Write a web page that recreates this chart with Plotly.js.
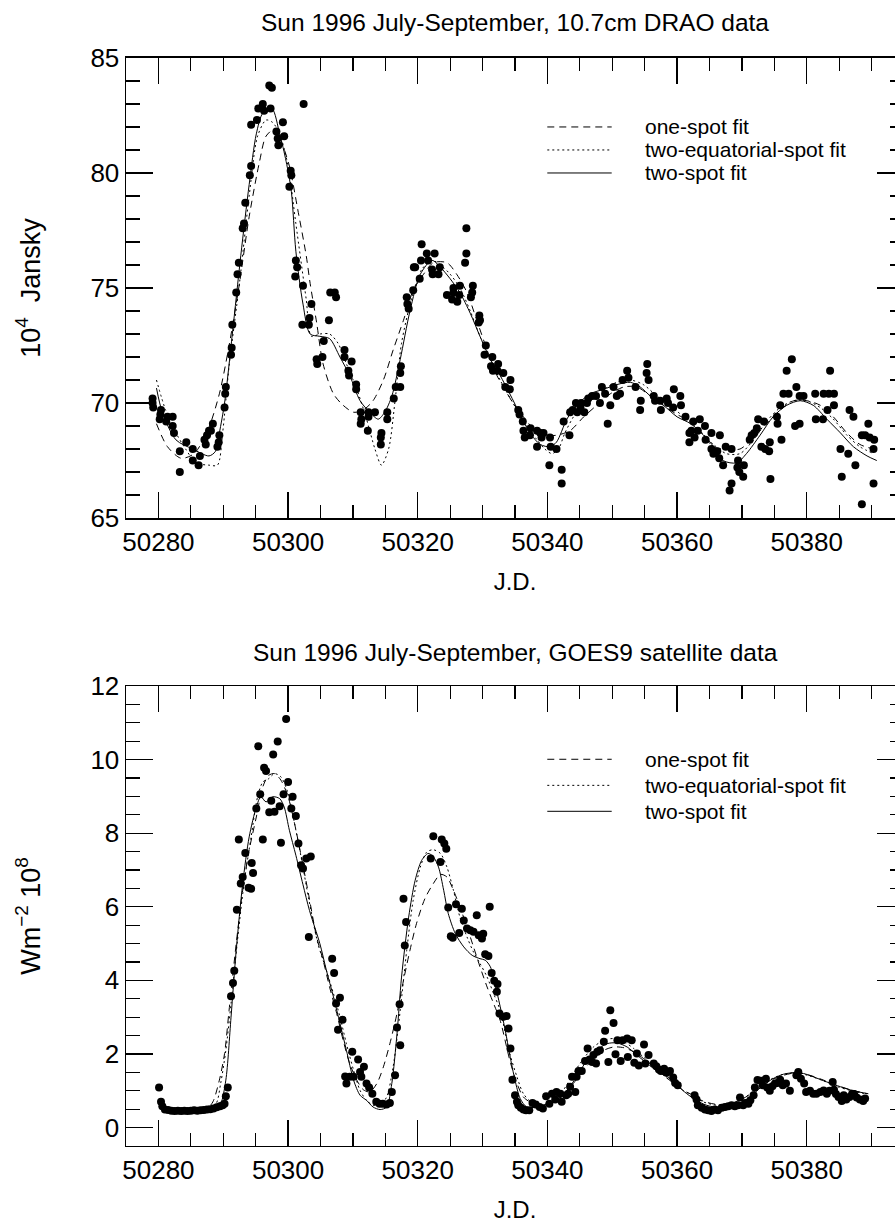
<!DOCTYPE html>
<html>
<head>
<meta charset="utf-8">
<script src="https://cdn.plot.ly/plotly-3.0.1.min.js"></script>
<style>
html,body{margin:0;padding:0;background:#fff;overflow:hidden;}
#chart{width:924px;height:1225px;}
</style>
</head>
<body>
<div id="chart"></div>
<script>
// ---------- DRAO 10.7 cm data (top panel) ----------
const draoJD = [50279.1,50279.1,50279.2,50280.3,50280.4,50280.2,50281.4,50281.2,50282.2,50282.2,50282.4,50283.3,50283.3,50284.3,50285.3,50285.3,50286.2,50286.4,50287.1,50287.3,50287.5,50287.8,50288.4,50288.1,50289.1,50289.3,50289.4,50290.2,50290.3,50290.4,50291.2,50291.3,50291.4,50292.0,50292.2,50292.4,50293.0,50293.2,50293.4,50294.1,50294.3,50294.3,50295.2,50295.4,50296.1,50296.3,50297.1,50297.5,50297.3,50298.2,50298.4,50298.5,50299.2,50299.4,50300.4,50300.5,50300.2,50301.2,50301.4,50301.1,50302.3,50302.4,50302.2,50303.2,50303.3,50303.6,50304.4,50304.5,50305.3,50305.5,50306.3,50306.5,50307.2,50307.4,50308.7,50308.7,50309.8,50309.3,50309.4,50310.5,50310.5,50311.2,50311.3,50311.2,50312.4,50312.4,50312.3,50313.4,50314.4,50314.3,50314.3,50315.3,50315.3,50316.3,50316.6,50317.3,50317.3,50317.4,50318.3,50318.4,50318.6,50319.3,50319.4,50319.6,50320.3,50320.5,50320.6,50321.4,50321.6,50322.6,50322.2,50322.3,50323.2,50323.4,50324.5,50325.3,50326.1,50325.5,50325.5,50326.4,50326.5,50327.5,50327.5,50327.3,50328.5,50328.4,50328.2,50329.5,50329.4,50329.6,50330.5,50330.3,50331.5,50331.3,50331.6,50332.4,50332.3,50333.2,50333.5,50334.3,50334.2,50335.5,50335.7,50336.2,50336.3,50336.5,50337.4,50337.3,50338.4,50338.9,50339.4,50338.4,50339.1,50340.4,50340.5,50341.4,50340.3,50342.2,50342.2,50342.5,50343.4,50343.5,50343.9,50344.6,50344.4,50345.1,50345.2,50345.7,50346.1,50346.3,50346.9,50347.5,50348.4,50348.1,50348.9,50349.3,50349.7,50350.2,50350.7,50351.2,50351.6,50352.3,50352.5,50353.6,50354.3,50354.4,50355.4,50355.3,50355.6,50356.4,50356.6,50357.4,50357.5,50358.4,50358.6,50359.5,50359.4,50360.5,50360.6,50361.3,50361.9,50361.9,50362.5,50362.2,50362.7,50363.2,50363.5,50364.3,50364.4,50365.3,50365.3,50365.6,50366.2,50366.5,50366.6,50367.1,50367.5,50368.4,50368.4,50368.1,50369.4,50369.3,50369.6,50370.2,50370.3,50371.2,50371.5,50371.9,50372.3,50372.5,50373.4,50373.0,50373.6,50374.3,50374.2,50374.4,50375.4,50375.5,50376.1,50375.9,50376.4,50376.9,50377.2,50377.7,50378.4,50378.2,50378.9,50378.9,50379.5,50381.3,50381.4,50382.5,50382.6,50383.4,50383.2,50383.6,50384.2,50384.2,50385.2,50385.4,50386.4,50387.2,50386.6,50387.5,50388.5,50388.5,50389.0,50389.5,50389.7,50390.4,50390.3,50390.3];
const draoFlux = [70.2,70.0,69.8,69.5,69.7,69.3,69.4,69.2,69.4,69.0,68.7,67.9,67.0,68.3,68.0,67.5,67.3,67.7,68.4,68.2,68.6,68.8,69.1,68.8,68.1,68.3,68.6,69.8,70.4,70.7,72.1,72.4,73.4,74.8,75.6,76.1,77.6,77.8,78.7,79.9,80.3,82.1,82.3,82.8,83.0,82.7,83.8,83.7,82.8,81.8,81.5,81.2,82.2,81.6,80.1,79.9,79.4,76.2,75.9,75.5,75.1,83.0,73.4,73.4,73.7,74.3,71.9,71.7,72.0,72.7,73.6,74.8,74.8,74.6,72.3,72.0,71.8,71.4,71.2,70.8,70.6,69.6,69.3,69.1,69.6,69.4,68.8,69.6,68.7,68.5,68.2,69.6,69.3,70.2,70.7,70.7,71.3,71.6,74.6,74.3,74.1,74.9,75.9,75.9,75.4,76.2,76.9,76.5,76.2,76.5,75.8,75.6,75.6,75.9,74.7,74.5,74.4,75.0,74.8,74.7,75.1,77.6,76.5,76.1,75.1,74.8,74.6,73.8,73.5,73.6,72.5,72.1,72.0,71.6,71.4,71.7,71.4,71.3,70.7,71.0,70.6,69.7,69.5,69.2,68.8,68.5,68.9,68.6,68.8,68.7,68.7,68.1,68.5,68.5,68.1,68.0,67.3,67.1,66.5,69.2,68.6,69.6,69.7,69.6,70.0,69.8,70.0,69.6,70.0,70.2,70.3,70.3,70.7,70.0,70.4,69.1,69.9,70.7,70.3,70.4,71.0,71.4,71.1,70.7,69.7,70.1,71.7,71.3,71.0,70.3,70.1,70.1,69.7,70.2,70.0,70.6,69.8,70.3,69.9,69.4,68.7,68.3,69.2,68.8,68.5,68.8,69.3,69.0,68.4,68.7,68.0,67.8,67.9,67.6,68.6,67.3,68.1,68.0,66.5,66.2,67.5,67.2,67.0,66.8,67.3,68.4,68.6,68.7,68.9,69.3,69.2,68.1,68.0,68.3,67.9,66.7,69.4,69.1,68.4,69.9,70.4,71.4,70.4,71.9,70.7,69.0,70.3,69.1,70.3,70.4,69.3,69.3,70.4,70.4,69.7,71.4,70.4,69.9,68.0,66.8,67.8,69.4,69.7,67.3,68.6,65.6,68.6,69.1,68.5,68.4,68.0,66.5];

// DRAO fits
const draoOneJD = [50279.7,50281.4,50283.5,50285.5,50287.6,50289.4,50290.9,50292.5,50294.0,50295.6,50296.6,50297.9,50298.9,50300.2,50301.5,50302.8,50303.4,50304.4,50305.4,50307.0,50308.5,50310.1,50311.6,50313.1,50314.7,50316.2,50317.8,50319.3,50320.9,50322.4,50324.5,50326.0,50327.6,50329.1,50330.7,50332.2,50333.2,50334.7,50336.3,50337.8,50339.6,50341.4,50343.5,50345.6,50347.6,50349.7,50351.8,50353.8,50355.9,50357.9,50360.0,50362.1,50363.5,50365.6,50367.6,50369.7,50371.8,50373.8,50375.9,50378.0,50380.0,50382.1,50384.1,50386.2,50388.2,50390.3];
const draoOneFlux = [69.1,68.1,67.6,67.8,68.8,70.4,72.5,75.2,78.1,80.5,81.6,81.9,81.4,80.3,78.4,76.4,75.2,73.5,71.7,70.4,69.9,69.6,69.7,70.1,71.0,72.3,73.6,74.9,75.6,76.1,76.1,75.6,74.8,73.6,72.3,71.2,70.7,70.0,69.4,68.9,68.6,68.6,68.8,69.4,69.9,70.4,70.7,70.7,70.3,69.9,69.5,69.2,68.8,68.1,68.0,68.0,68.5,69.1,69.7,70.1,70.1,69.9,69.4,68.7,68.2,68.0];
const draoEqJD = [50279.7,50281.1,50282.7,50284.2,50285.8,50287.8,50289.1,50289.9,50290.9,50292.5,50294.0,50295.3,50296.6,50297.6,50298.7,50300.0,50301.2,50302.8,50303.6,50304.9,50306.4,50307.7,50309.0,50310.6,50312.1,50313.4,50314.4,50315.5,50316.5,50317.5,50319.1,50320.6,50322.2,50323.5,50325.0,50326.5,50328.1,50329.6,50331.2,50332.7,50335.3,50336.8,50338.4,50339.6,50340.7,50341.7,50342.7,50344.5,50346.6,50348.7,50350.7,50352.8,50354.8,50356.9,50358.9,50361.0,50363.5,50365.6,50367.6,50369.7,50371.8,50373.8,50375.9,50378.0,50380.0,50382.1,50384.1,50386.2,50388.2,50390.3];
const draoEqFlux = [71.0,69.7,68.7,68.0,67.4,67.3,67.3,68.7,71.6,75.2,79.0,81.6,82.3,82.2,81.7,80.3,77.8,74.5,72.9,73.0,73.0,72.6,71.7,70.6,69.3,68.0,67.3,68.0,70.1,72.6,74.6,75.8,76.2,76.0,75.6,75.0,74.0,72.9,71.9,71.0,69.7,69.0,68.4,68.0,67.8,68.0,68.7,69.6,70.1,70.6,70.9,71.0,70.8,70.3,69.9,69.4,68.8,68.2,67.8,67.8,68.4,69.2,69.8,70.1,70.1,69.8,69.3,68.6,68.1,67.8];
const draoTwoJD = [50279.7,50280.6,50282.7,50285.3,50287.8,50288.8,50289.4,50290.2,50291.4,50292.7,50294.0,50295.1,50296.1,50297.5,50298.7,50299.7,50300.5,50301.2,50302.3,50303.4,50304.9,50306.4,50308.0,50309.5,50311.1,50312.6,50313.9,50314.9,50316.0,50317.3,50318.8,50320.4,50322.2,50323.5,50325.0,50326.5,50328.1,50329.6,50331.2,50332.7,50334.2,50335.8,50337.3,50338.9,50340.4,50341.4,50343.0,50344.5,50346.6,50348.7,50350.7,50352.8,50354.3,50355.9,50357.9,50360.0,50362.1,50365.1,50367.1,50369.2,50370.7,50372.8,50374.8,50376.9,50379.0,50381.0,50383.1,50385.2,50387.2,50389.3,50390.8];
const draoTwoFlux = [70.65,69.6,68.4,68.0,67.7,67.9,68.7,70.0,73.0,76.4,79.5,81.7,82.6,82.8,81.7,80.5,79.2,76.6,74.3,73.0,72.9,72.8,72.0,71.2,70.1,69.6,69.3,69.6,70.3,71.9,74.0,75.6,76.2,75.9,75.4,74.8,73.9,72.9,71.9,71.2,70.4,69.5,68.7,68.2,68.1,68.3,69.3,69.9,70.4,70.6,70.8,70.9,70.7,70.3,69.9,69.4,69.1,68.3,67.5,67.4,67.8,68.6,69.4,69.9,70.1,69.9,69.3,68.7,68.1,67.7,67.5];

// ---------- GOES9 data (bottom panel) ----------
const goesJD = [50280.1,50280.4,50280.6,50281.0,50281.5,50282.0,50282.5,50283.0,50283.5,50284.0,50284.5,50285.0,50285.5,50286.0,50286.5,50287.0,50287.5,50288.0,50288.5,50289.0,50289.5,50289.9,50290.2,50290.4,50290.7,50291.2,50291.5,50291.7,50292.1,50292.4,50292.7,50293.0,50293.4,50293.9,50294.3,50294.4,50294.6,50295.1,50295.4,50295.7,50296.1,50296.3,50296.6,50297.1,50297.4,50297.9,50298.7,50297.7,50298.4,50298.9,50299.3,50299.7,50300.0,50300.5,50300.7,50301.2,50301.6,50302.0,50302.3,50302.8,50303.5,50303.2,50306.8,50307.1,50307.4,50308.0,50307.7,50308.4,50308.8,50309.0,50309.5,50309.9,50310.1,50310.8,50311.1,50311.3,50311.7,50312.1,50312.5,50313.0,50313.6,50314.1,50314.6,50315.2,50315.7,50316.0,50316.5,50316.8,50317.3,50317.2,50318.0,50318.2,50317.8,50322.0,50322.4,50323.5,50323.7,50324.1,50324.4,50324.7,50325.1,50325.4,50325.9,50326.4,50326.8,50327.1,50327.6,50328.1,50328.6,50329.1,50329.4,50329.9,50330.1,50331.1,50330.4,50330.9,50331.4,50331.8,50332.2,50332.3,50332.6,50333.2,50333.7,50334.0,50334.3,50334.6,50335.0,50335.3,50335.5,50335.9,50336.3,50336.7,50337.2,50337.7,50338.2,50338.8,50339.3,50339.8,50340.3,50340.7,50341.2,50341.4,50342.0,50342.2,50342.9,50343.2,50343.5,50343.8,50344.3,50344.5,50344.8,50345.3,50345.8,50346.2,50346.5,50346.9,50347.1,50347.5,50347.7,50348.1,50348.7,50348.9,50349.4,50349.7,50350.2,50350.5,50350.8,50351.3,50351.6,50352.3,50352.4,50353.0,50353.4,50353.8,50354.1,50354.9,50355.1,50355.6,50356.4,50356.8,50357.2,50357.5,50358.0,50358.4,50358.9,50359.4,50359.7,50360.1,50362.7,50363.0,50363.2,50363.8,50364.3,50364.8,50365.3,50365.8,50366.3,50366.9,50367.4,50367.9,50368.4,50368.9,50369.4,50369.7,50370.2,50370.5,50371.0,50371.3,50371.8,50372.0,50372.4,50372.9,50373.2,50373.7,50373.9,50374.3,50374.7,50375.1,50375.5,50375.9,50376.3,50376.8,50377.4,50378.4,50378.7,50379.1,50379.6,50379.9,50380.5,50381.0,50381.5,50382.1,50382.6,50383.1,50383.5,50384.0,50384.2,50384.5,50384.9,50385.4,50385.7,50386.1,50386.6,50387.0,50387.3,50387.7,50388.2,50388.7,50389.0];
const goesFlux = [1.09,0.70,0.58,0.49,0.48,0.46,0.45,0.46,0.45,0.46,0.45,0.46,0.47,0.46,0.47,0.48,0.49,0.50,0.52,0.55,0.58,0.61,0.65,0.85,1.09,3.57,3.93,4.26,5.92,7.83,6.63,6.81,7.46,6.52,6.49,7.19,6.92,8.67,10.36,9.06,7.83,9.78,9.69,8.57,8.88,8.58,8.73,10.14,10.49,7.74,9.06,11.1,9.39,8.67,8.99,8.47,7.72,7.13,7.04,7.31,7.37,5.18,4.59,4.20,3.37,3.53,2.66,2.93,1.39,1.20,1.38,2.06,1.38,1.85,1.51,1.38,1.65,1.20,1.09,0.92,0.70,0.65,0.65,0.63,0.67,0.97,1.42,2.72,2.24,3.35,4.95,5.59,6.22,7.31,7.92,7.22,7.83,7.72,7.58,5.98,5.20,5.16,6.07,5.29,5.95,5.63,5.41,5.36,5.32,5.77,5.23,5.14,5.27,6.00,4.71,4.66,4.20,3.99,3.69,3.90,3.10,3.01,3.03,2.69,2.15,1.30,0.88,0.70,0.61,0.54,0.49,0.47,0.47,0.67,0.63,0.56,0.52,0.85,0.65,0.92,0.76,0.97,0.92,0.70,0.88,0.92,1.11,1.38,0.97,1.38,1.54,1.54,1.81,2.15,1.85,1.78,1.97,1.74,2.06,2.10,2.33,2.63,1.78,3.19,2.84,1.99,2.37,1.81,2.37,2.42,1.92,2.37,1.76,2.01,1.69,2.26,1.74,1.97,1.74,1.67,1.58,1.54,1.60,1.49,1.54,1.36,1.21,1.15,0.88,0.76,0.61,0.54,0.49,0.47,0.45,0.49,0.47,0.54,0.56,0.58,0.61,0.58,0.61,0.82,0.61,0.67,0.65,0.74,0.88,1.09,1.29,1.27,1.15,1.33,1.09,1.00,1.12,1.20,1.21,1.30,1.15,1.20,1.00,1.42,1.51,1.33,1.20,0.97,1.00,0.92,0.92,0.97,1.01,0.92,1.00,1.24,1.03,0.91,0.83,0.72,0.88,0.76,0.83,0.92,0.91,0.82,0.76,0.72,0.79];

// GOES fits
const goesOneJD = [50280.9,50285.0,50287.5,50288.4,50289.4,50290.2,50290.9,50292.0,50293.0,50294.0,50295.1,50296.1,50297.0,50297.9,50298.9,50300.0,50301.0,50302.0,50303.2,50304.4,50305.4,50306.4,50307.5,50308.5,50309.5,50310.6,50311.6,50312.6,50313.7,50314.7,50315.7,50316.8,50317.8,50318.8,50319.8,50321.1,50322.4,50323.5,50324.5,50325.5,50326.5,50327.6,50328.6,50329.6,50330.7,50331.7,50332.7,50334.2,50335.3,50336.3,50337.8,50339.4,50340.9,50342.5,50344.0,50345.6,50347.1,50348.7,50350.2,50351.8,50353.3,50354.8,50356.4,50357.9,50359.5,50361.0,50362.0,50364.0,50366.1,50368.1,50370.2,50372.3,50374.3,50376.4,50378.5,50380.5,50382.6,50384.6,50386.7,50389.3];
const goesOneFlux = [0.50,0.47,0.52,0.70,1.29,2.01,3.19,5.0,6.45,7.54,8.44,9.26,9.57,9.62,9.44,8.99,8.26,7.4,6.3,5.18,4.55,3.82,3.10,2.37,1.74,1.29,1.03,0.97,1.20,1.65,2.28,3.10,4.00,4.82,5.54,6.22,6.63,6.88,6.81,6.45,6.00,5.45,4.91,4.37,3.82,3.37,2.92,1.83,1.20,0.83,0.65,0.61,0.70,0.88,1.20,1.56,1.88,2.10,2.19,2.17,2.06,1.88,1.65,1.42,1.20,1.01,0.92,0.72,0.63,0.65,0.79,1.03,1.27,1.42,1.49,1.42,1.29,1.15,1.03,0.92];
const goesEqJD = [50280.9,50285.0,50287.8,50288.9,50289.6,50290.4,50291.2,50292.2,50293.2,50294.3,50295.3,50296.1,50297.0,50297.9,50298.9,50300.0,50301.0,50302.0,50303.2,50304.6,50305.9,50307.0,50308.0,50309.0,50310.1,50311.1,50312.1,50313.1,50314.2,50315.2,50316.2,50317.3,50318.3,50319.3,50320.4,50321.4,50322.4,50323.5,50324.5,50325.5,50326.5,50327.6,50328.6,50329.6,50330.7,50331.7,50332.7,50334.2,50335.3,50336.3,50337.8,50339.4,50340.9,50342.5,50344.0,50345.6,50347.1,50348.7,50350.2,50351.8,50353.3,50354.8,50356.4,50357.9,50359.5,50361.0,50362.0,50364.0,50366.1,50368.1,50370.2,50372.3,50374.3,50376.4,50378.5,50380.5,50382.6,50384.6,50386.7,50389.3];
const goesEqFlux = [0.50,0.47,0.52,0.65,1.20,2.10,3.37,5.09,6.63,7.90,8.99,9.39,9.48,9.62,9.53,9.08,8.26,7.36,6.2,5.0,4.28,3.64,3.01,2.28,1.56,1.01,0.74,0.61,0.61,0.83,1.65,3.19,4.82,6.18,7.08,7.49,7.55,7.45,7.08,6.45,5.72,5.18,4.77,4.46,4.09,3.64,3.19,2.01,1.38,0.92,0.65,0.58,0.72,1.03,1.47,1.88,2.19,2.37,2.42,2.33,2.15,1.92,1.67,1.42,1.20,1.00,0.91,0.70,0.61,0.63,0.79,1.06,1.30,1.45,1.49,1.40,1.27,1.12,1.01,0.91];
const goesTwoJD = [50280.9,50285.3,50288.9,50289.6,50290.4,50291.2,50292.0,50293.0,50294.0,50295.1,50295.8,50296.6,50297.6,50298.7,50299.4,50300.2,50301.2,50302.3,50303.3,50304.9,50305.9,50307.0,50308.0,50309.0,50310.1,50311.1,50312.1,50313.1,50314.2,50315.2,50316.0,50316.8,50317.5,50318.6,50319.6,50320.6,50321.6,50322.4,50323.2,50324.0,50324.7,50325.8,50327.1,50328.4,50329.6,50330.4,50331.2,50331.9,50332.7,50333.5,50334.2,50335.0,50335.8,50336.8,50338.4,50339.9,50341.4,50343.0,50344.5,50346.1,50347.6,50349.2,50350.7,50352.3,50353.8,50355.4,50356.9,50358.5,50360.0,50361.5,50363.0,50364.5,50366.6,50368.7,50370.2,50371.8,50373.3,50374.8,50376.4,50377.9,50379.5,50381.0,50383.1,50385.2,50387.2,50389.5];
const goesTwoFlux = [0.52,0.47,0.54,0.65,1.29,3.0,4.82,6.63,7.9,8.71,8.99,8.85,8.99,8.94,8.71,8.08,7.4,6.6,5.9,5.0,4.28,3.55,2.83,2.10,1.29,0.88,0.74,0.56,0.49,0.56,1.20,2.55,4.09,5.72,6.72,7.26,7.45,7.36,7.08,6.45,5.82,5.27,4.91,4.68,4.59,4.55,4.37,3.91,3.30,2.64,1.97,1.29,0.79,0.56,0.56,0.65,0.76,1.01,1.38,1.83,2.10,2.28,2.30,2.19,1.97,1.74,1.54,1.38,1.15,0.92,0.74,0.61,0.54,0.58,0.70,0.92,1.15,1.33,1.45,1.49,1.47,1.38,1.24,1.11,1.00,0.92];

// ---------- labels ----------
const titleTop = 'Sun 1996 July-September, 10.7cm DRAO data';
const titleBottom = 'Sun 1996 July-September, GOES9 satellite data';
const xLabel = 'J.D.';
const yLabelTop = '10<sup>4</sup>  Jansky';
const yLabelBottom = 'Wm<sup>\u22122</sup> 10<sup>8</sup>';
const fitNames = ['one-spot fit', 'two-equatorial-spot fit', 'two-spot fit'];
const fitDashes = ['7px,5px', '2px,3px', 'solid'];

const FONT = '"Liberation Sans", Arial, Helvetica, sans-serif';
const black = '#000';

function fitTrace(x, y, dash, xa, ya, name) {
  return {x: x, y: y, type: 'scatter', mode: 'lines', name: name,
    line: {color: black, width: 1, dash: dash, shape: 'spline', smoothing: 0.8},
    xaxis: xa, yaxis: ya, hoverinfo: 'skip', showlegend: false};
}
function dataTrace(x, y, xa, ya) {
  return {x: x, y: y, type: 'scatter', mode: 'markers', name: 'data',
    marker: {color: black, size: 8}, xaxis: xa, yaxis: ya, showlegend: false};
}

const traces = [
  fitTrace(draoOneJD, draoOneFlux, fitDashes[0], 'x', 'y', fitNames[0]),
  fitTrace(draoEqJD, draoEqFlux, fitDashes[1], 'x', 'y', fitNames[1]),
  fitTrace(draoTwoJD, draoTwoFlux, fitDashes[2], 'x', 'y', fitNames[2]),
  dataTrace(draoJD, draoFlux, 'x', 'y'),
  fitTrace(goesOneJD, goesOneFlux, fitDashes[0], 'x2', 'y2', fitNames[0]),
  fitTrace(goesEqJD, goesEqFlux, fitDashes[1], 'x2', 'y2', fitNames[1]),
  fitTrace(goesTwoJD, goesTwoFlux, fitDashes[2], 'x2', 'y2', fitNames[2]),
  dataTrace(goesJD, goesFlux, 'x2', 'y2')
];

function xAxis(anchor) {
  return {anchor: anchor, domain: [0, 1], range: [50275, 50395],
    tick0: 50280, dtick: 20, tickformat: 'd', ticks: 'inside', ticklen: 26, tickwidth: 1.2, tickcolor: black,
    minor: {ticks: 'inside', ticklen: 13, dtick: 5, tick0: 50280, tickwidth: 1.2, tickcolor: black},
    showline: true, linewidth: 1.5, linecolor: black, mirror: 'allticks',
    showgrid: false, zeroline: false, automargin: false,
    tickfont: {size: 26, color: black, family: FONT},
    title: {text: xLabel, font: {size: 24, color: black, family: FONT}, standoff: 17}};
}
function yAxis(anchor, domain, range, dtick, minorDtick, label) {
  return {anchor: anchor, domain: domain, range: range,
    tick0: 0, dtick: dtick, ticks: 'inside', ticklen: 27, tickwidth: 1.2, tickcolor: black,
    minor: {ticks: 'inside', ticklen: 14, dtick: minorDtick, tick0: 0, tickwidth: 1.2, tickcolor: black},
    showline: true, linewidth: 1.5, linecolor: black, mirror: 'allticks',
    showgrid: false, zeroline: false, automargin: false,
    tickfont: {size: 26, color: black, family: FONT},
    title: {text: label, font: {size: 27, color: black, family: FONT}, standoff: 42}};
}

function legendItems(xa, ya, ys) {
  const shapes = [], anns = [];
  fitNames.forEach((n, i) => {
    shapes.push({type: 'line', xref: xa + ' domain', yref: ya + ' domain',
      x0: 0.5415, x1: 0.6243, y0: ys[i], y1: ys[i],
      line: {color: black, width: 1, dash: fitDashes[i]}});
    anns.push({xref: xa + ' domain', yref: ya + ' domain', x: 0.664, y: ys[i],
      xanchor: 'left', yanchor: 'middle', showarrow: false, text: n,
      font: {size: 21, color: black, family: FONT}});
  });
  return {shapes, anns};
}
const legTop = legendItems('x', 'y', [0.85, 0.80, 0.75]);
const legBot = legendItems('x2', 'y2', [0.8407, 0.784, 0.7276]);

const layout = {
  width: 924, height: 1225,
  margin: {l: 126, r: 20, t: 0, b: 0, pad: 0},
  paper_bgcolor: '#fff', plot_bgcolor: '#fff',
  showlegend: false,
  font: {family: FONT, size: 24, color: black},
  title: {text: titleTop, xref: 'paper', x: 0.5, xanchor: 'center',
    yref: 'container', y: 1 - 22 / 1225, yanchor: 'middle',
    font: {size: 24.5, color: black, family: FONT}},
  xaxis: xAxis('y'),
  yaxis: yAxis('x', [0.5771, 0.9527], [65, 85], 5, 1, yLabelTop),
  xaxis2: xAxis('y2'),
  yaxis2: yAxis('x2', [0.0645, 0.44], [-0.5, 12], 2, 0.5, yLabelBottom),
  shapes: legTop.shapes.concat(legBot.shapes),
  annotations: [
    {xref: 'paper', yref: 'paper', x: 0.5, y: 1 - 652 / 1225, xanchor: 'center', yanchor: 'middle',
     showarrow: false, text: titleBottom, font: {size: 24.5, color: black, family: FONT}}
  ].concat(legTop.anns, legBot.anns)
};

Plotly.newPlot('chart', traces, layout, {staticPlot: true, displayModeBar: false});
</script>
</body>
</html>
